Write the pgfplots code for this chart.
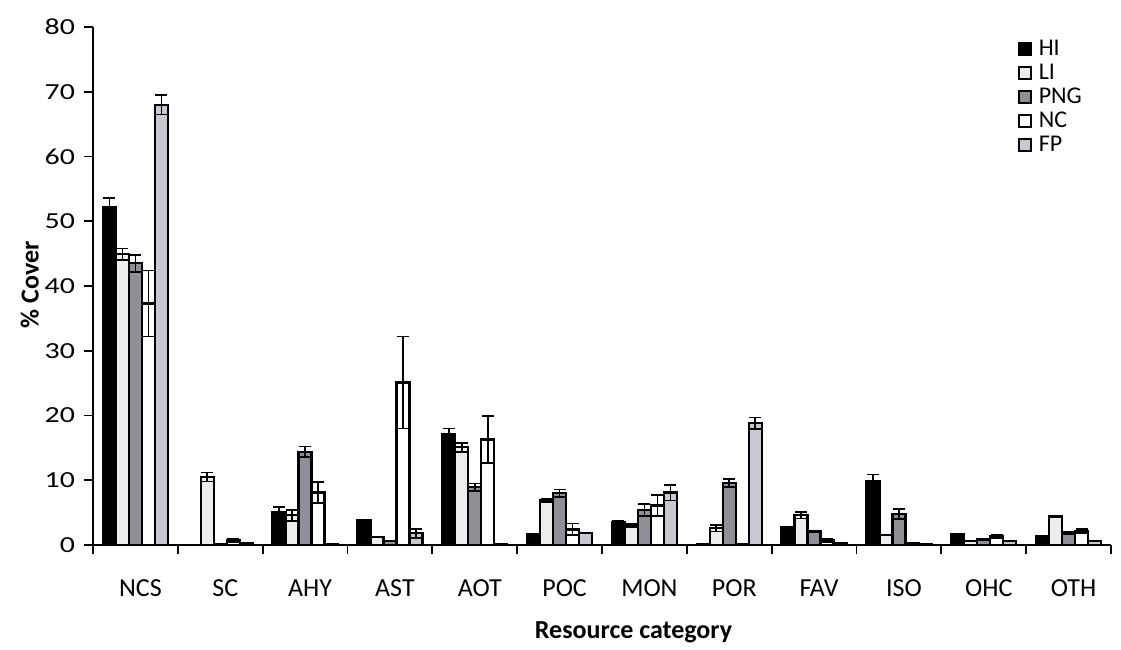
\documentclass[border=0pt]{standalone}
\usepackage{pgfplots}
\pgfplotsset{compat=1.18}
\usepackage{pgfplotstable}
\usepackage{fontspec}
\setmainfont{Carlito}
\newfontfamily\tickfont[FakeStretch=1.3]{Carlito}
\definecolor{licol}{HTML}{EDEDF0}
\definecolor{pngcol}{HTML}{8F8F97}
\definecolor{fpcol}{HTML}{C8C8D2}
\pgfplotsset{sqlegend/.style={legend image code/.code={\draw[#1, line width=0.9pt] (0pt,-3pt) rectangle (6pt,3pt); \path (-1pt,0pt) (9pt,0pt);}}}

\pgfplotstableread{
x y e
0 52.2 1.4
1 0.0 0.0
2 5.1 0.8
3 3.9 0.0
4 17.1 0.9
5 1.7 0.0
6 3.6 0.1
7 0.1 0.0
8 2.8 0.0
9 9.8 1.1
10 1.7 0.0
11 1.3 0.0
}\hi
\pgfplotstableread{
x y e
0 44.9 0.9
1 10.5 0.7
2 4.6 0.85
3 1.2 0.0
4 15.1 0.7
5 6.9 0.3
6 3.0 0.3
7 2.6 0.5
8 4.6 0.5
9 1.5 0.0
10 0.6 0.0
11 4.4 0.0
}\li
\pgfplotstableread{
x y e
0 43.5 1.3
1 0.2 0.0
2 14.4 0.8
3 0.6 0.0
4 8.9 0.6
5 8.0 0.6
6 5.4 0.9
7 9.6 0.6
8 2.1 0.0
9 4.8 0.8
10 0.9 0.1
11 1.9 0.2
}\png
\pgfplotstableread{
x y e
0 37.3 5.1
1 0.7 0.2
2 8.1 1.6
3 25.1 7.1
4 16.3 3.6
5 2.4 0.9
6 6.1 1.6
7 0.2 0.0
8 0.7 0.2
9 0.3 0.0
10 1.3 0.2
11 2.2 0.3
}\nc
\pgfplotstableread{
x y e
0 68.0 1.5
1 0.3 0.0
2 0.2 0.0
3 1.8 0.7
4 0.2 0.0
5 1.8 0.0
6 8.1 1.2
7 18.8 0.9
8 0.3 0.0
9 0.1 0.0
10 0.6 0.0
11 0.6 0.0
}\fp

\begin{document}
\begin{tikzpicture}
\path (-46.5pt,-49.5pt) rectangle (514pt,272.5pt);
\begin{axis}[
  at={(0,0)}, anchor=south west,
  scale only axis, width=509pt, height=259pt,
  ymin=0, ymax=80, ytick={0,10,...,80},
  xmin=-0.5, xmax=11.5,
  axis x line*=bottom, axis y line*=left,
  axis line style={line width=0.9pt},
  ybar=0pt, bar width=6.5pt,
  xtick={0,...,11},
  xticklabels={NCS,SC,AHY,AST,AOT,POC,MON,POR,FAV,ISO,OHC,OTH},
  major x tick style={draw=none},
  minor xtick={-0.5,0.5,...,11.5},
  tick align=outside, major tick length=4.5pt, minor tick length=4.5pt,
  tick style={line width=0.9pt, black},
  /pgf/number format/assume math mode=true,
  yticklabel style={font=\tickfont\fontsize{11.5}{13}\selectfont, xshift=-1pt},
  xticklabel style={font=\fontsize{13}{15}\selectfont, anchor=center, yshift=-17pt, xshift=2.5pt},
  xlabel={Resource category},
  ylabel={\% Cover},
  label style={font=\bfseries\fontsize{13}{15}\selectfont},
  xlabel style={at={(axis description cs:0.531,-0.168)}, anchor=center},
  ylabel style={at={(axis description cs:-0.062,0.502)}, anchor=center},
  legend style={draw=none, fill=none, at={(0.900,0.988)}, anchor=north west,
    font=\fontsize{12}{14}\selectfont, legend cell align=left, row sep=0.5pt,
    nodes={inner sep=0.5pt, text height=8.5pt, text depth=2pt}},
  mybar/.style={draw=black, line width=1.1pt,
    /pgfplots/error bars/y dir=both, /pgfplots/error bars/y explicit,
    /pgfplots/error bars/error bar style={line width=0.8pt, black},
    /pgfplots/error bars/error mark options={rotate=90, mark size=3pt, line width=0.8pt, black}},
]
\addplot[mybar, fill=black, sqlegend] table[x=x, y=y, y error=e]{\hi};
\addplot[mybar, fill=licol, sqlegend] table[x=x, y=y, y error=e]{\li};
\addplot[mybar, fill=pngcol, sqlegend] table[x=x, y=y, y error=e]{\png};
\addplot[mybar, fill=white, sqlegend] table[x=x, y=y, y error=e]{\nc};
\addplot[mybar, fill=fpcol, sqlegend] table[x=x, y=y, y error=e]{\fp};
\legend{HI,LI,PNG,NC,FP}
\end{axis}
\end{tikzpicture}
\end{document}
